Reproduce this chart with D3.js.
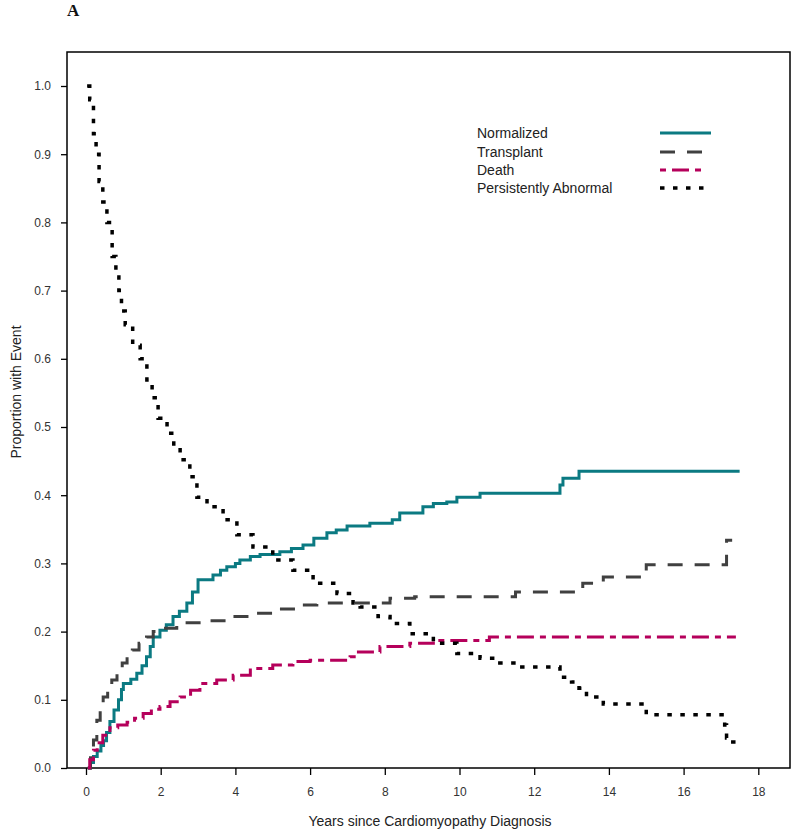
<!DOCTYPE html>
<html>
<head>
<meta charset="utf-8">
<script src="https://cdn.jsdelivr.net/npm/d3@7"></script>
<style>
  html, body { margin: 0; padding: 0; background: #fff; }
  svg { display: block; }
  text { font-family: Arial, "Liberation Sans", sans-serif; }
</style>
</head>
<body>
<svg id="chart" width="795" height="831"></svg>
<script>
// ---------- data ----------
const seriesNames = ["Normalized", "Transplant", "Death", "Persistently Abnormal"];

const normTimes = [0.05,0.12,0.2,0.3,0.4,0.47,0.55,0.64,0.75,0.87,0.95,1.0,1.2,1.36,1.5,1.62,1.72,1.8,1.98,2.15,2.33,2.5,2.7,2.85,3.0,3.4,3.6,3.77,4.0,4.12,4.4,4.66,5.19,5.5,5.81,6.1,6.45,6.7,6.99,7.6,8.2,8.4,9.02,9.3,9.66,9.93,10.55,12.69,12.77,13.2,17.5];
const normValues = [0,0.008,0.017,0.025,0.033,0.04,0.052,0.068,0.085,0.1,0.115,0.124,0.13,0.139,0.15,0.163,0.178,0.192,0.202,0.21,0.222,0.23,0.242,0.258,0.276,0.283,0.29,0.295,0.3,0.305,0.31,0.313,0.317,0.322,0.327,0.337,0.345,0.349,0.355,0.359,0.364,0.374,0.383,0.388,0.39,0.397,0.403,0.415,0.425,0.435,0.435];

const txTimes = [0.05,0.12,0.2,0.29,0.38,0.46,0.58,0.69,0.83,0.97,1.1,1.24,1.42,1.62,1.8,1.98,2.43,3.23,3.85,4.4,5.0,5.64,6.18,8.14,8.8,11.5,13.3,13.85,15.0,17.15,17.3];
const txValues = [0,0.015,0.041,0.07,0.09,0.104,0.118,0.129,0.142,0.154,0.164,0.173,0.183,0.192,0.2,0.205,0.213,0.216,0.222,0.227,0.233,0.239,0.242,0.249,0.251,0.258,0.271,0.28,0.298,0.334,0.334];

const deathTimes = [0.05,0.1,0.2,0.3,0.45,0.64,0.85,1.1,1.3,1.53,1.75,1.98,2.25,2.52,2.8,3.05,3.5,3.94,4.4,5.0,5.54,6.0,7.07,7.25,7.87,8.67,9.3,10.8,17.4];
const deathValues = [0,0.012,0.026,0.037,0.048,0.059,0.063,0.067,0.073,0.08,0.086,0.09,0.097,0.104,0.114,0.124,0.129,0.136,0.146,0.151,0.156,0.158,0.163,0.17,0.178,0.183,0.187,0.192,0.192];

const abnTimes = [0.03,0.1,0.2,0.27,0.35,0.45,0.56,0.7,0.8,0.88,0.95,1.05,1.25,1.45,1.63,1.77,1.93,2.17,2.35,2.52,2.78,2.97,3.24,3.67,4.04,4.47,5.0,5.54,6.08,6.72,7.15,7.34,7.82,8.14,8.67,9.3,9.93,10.55,11.08,11.54,12.69,13.0,13.2,13.4,13.85,15.0,17.1,17.15,17.25,17.5];
const abnValues = [1.0,0.98,0.93,0.9,0.86,0.83,0.8,0.75,0.72,0.7,0.67,0.65,0.62,0.6,0.569,0.543,0.513,0.491,0.47,0.452,0.427,0.397,0.383,0.364,0.342,0.324,0.305,0.29,0.271,0.256,0.242,0.236,0.222,0.212,0.197,0.183,0.168,0.161,0.154,0.148,0.133,0.126,0.117,0.104,0.094,0.078,0.063,0.044,0.038,0.038];

const xTicks = [0,2,4,6,8,10,12,14,16,18];
const yTicks = [0,0.1,0.2,0.3,0.4,0.5,0.6,0.7,0.8,0.9,1.0];

// ---------- layout ----------
const svg = d3.select("#chart");
const frame = {left: 67, right: 790, top: 52, bottom: 768};
const x = d3.scaleLinear().domain([0, 18]).range([86, 758.3]);
const y = d3.scaleLinear().domain([0, 1]).range([768, 86]);

const styles = [
  {color: "#0b7a82", width: 3, dash: null, legOffset: 0},
  {color: "#404040", width: 3, dash: "15,12", legOffset: 0},
  {color: "#b5005b", width: 3, dash: "17,6,6,6", legOffset: 23},
  {color: "#000000", width: 3.5, dash: "4.5,8.5", legOffset: 0}
];

const series = [
  d3.zip(normTimes, normValues),
  d3.zip(txTimes, txValues),
  d3.zip(deathTimes, deathValues),
  d3.zip(abnTimes, abnValues)
];

// panel label
svg.append("text").attr("x", 67).attr("y", 16)
  .style("font-family", "'Liberation Serif', 'Times New Roman', serif")
  .style("font-weight", "bold").style("font-size", "17px").attr("fill", "#111").text("A");

// frame
svg.append("rect").attr("x", frame.left).attr("y", frame.top)
  .attr("width", frame.right - frame.left).attr("height", frame.bottom - frame.top)
  .attr("fill", "none").attr("stroke", "#000").attr("stroke-width", 1.5);

// axes
const yAxis = d3.axisLeft(y).tickValues(yTicks).tickFormat(d3.format(".1f")).tickSize(6).tickPadding(10);
const gy = svg.append("g").attr("transform", `translate(${frame.left},0)`).call(yAxis);
const xAxis = d3.axisBottom(x).tickValues(xTicks).tickFormat(d3.format("d")).tickSize(7).tickPadding(12);
const gx = svg.append("g").attr("transform", `translate(0,${frame.bottom})`).call(xAxis);
[gy, gx].forEach(g => {
  g.select(".domain").remove();
  g.selectAll(".tick line").attr("stroke", "#000").attr("stroke-width", 1.3);
  g.selectAll(".tick text").attr("fill", "#333").style("font-size", "12px")
    .style("font-family", "Arial, 'Liberation Sans', sans-serif");
});

// axis titles
svg.append("text").attr("x", 430).attr("y", 826).attr("text-anchor", "middle")
  .attr("fill", "#222").style("font-size", "14px").text("Years since Cardiomyopathy Diagnosis");
svg.append("text").attr("transform", "translate(21,392) rotate(-90)").attr("text-anchor", "middle")
  .attr("fill", "#222").style("font-size", "14px").text("Proportion with Event");

// lines
const line = d3.line().x(d => x(d[0])).y(d => y(d[1])).curve(d3.curveStepAfter);
series.forEach((s, i) => {
  svg.append("path").datum(s).attr("d", line)
    .attr("fill", "none").attr("stroke", styles[i].color)
    .attr("stroke-width", styles[i].width)
    .attr("stroke-dasharray", styles[i].dash);
});

// legend
const legY = [133, 152, 170, 188];
seriesNames.forEach((name, i) => {
  svg.append("text").attr("x", 477).attr("y", legY[i] + 5)
    .attr("fill", "#222").style("font-size", "14px").text(name);
  svg.append("line").attr("x1", 660).attr("x2", i === 0 ? 711 : 706).attr("y1", legY[i]).attr("y2", legY[i])
    .attr("stroke", styles[i].color).attr("stroke-width", styles[i].width)
    .attr("stroke-dasharray", styles[i].dash)
    .attr("stroke-dashoffset", styles[i].legOffset);
});
</script>
</body>
</html>
